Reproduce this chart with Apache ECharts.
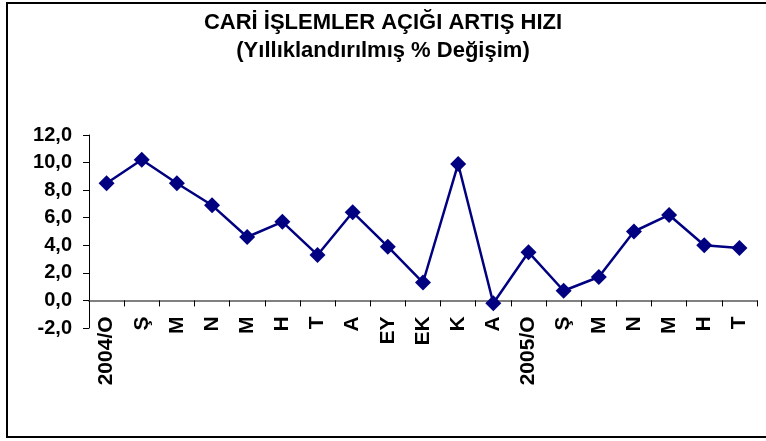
<!DOCTYPE html>
<html><head><meta charset="utf-8">
<script src="https://cdn.jsdelivr.net/npm/echarts@6/dist/echarts.min.js"></script>
<style>html,body{margin:0;padding:0;background:#fff}#c{width:766px;height:441px}</style>
</head><body><div id="c"></div>
<script>
var categories = ['2004/O','Ş','M','N','M','H','T','A','EY','EK','K','A','2005/O','Ş','M','N','M','H','T'];
var values = [8.5,10.2,8.5,6.9,4.6,5.7,3.3,6.4,3.9,1.3,9.9,-0.2,3.5,0.7,1.7,5.0,6.2,4.0,3.8];
var titleText = 'CARİ İŞLEMLER AÇIĞI ARTIŞ HIZI';
var subtitleText = '(Yıllıklandırılmış % Değişim)';
var yMin = -2, yMax = 12;
var gridTop = 135, gridBottom = 113, H = 441;
var plotH = H - gridTop - gridBottom;
var zeroOffset = -plotH * (0 - yMin) / (yMax - yMin);
var chart = echarts.init(document.getElementById('c'));
var ts = {fontFamily:'Liberation Sans, Arial',fontWeight:'bold',fontSize:22,color:'#000',lineHeight:24};
chart.setOption({
  animation:false,
  backgroundColor:'#fff',
  title:[{text:titleText,left:'center',top:6,textStyle:ts},
         {text:subtitleText,left:'center',top:34,textStyle:ts}],
  graphic:[{type:'rect',shape:{x:7,y:3,width:790,height:434},style:{fill:'none',stroke:'#000',lineWidth:2}}],
  grid:{left:89,right:9,top:gridTop,bottom:gridBottom,containLabel:false},
  xAxis:{type:'category',data:categories,boundaryGap:true,offset:zeroOffset,
    axisLine:{show:true,onZero:false,lineStyle:{color:'#808080',width:2}},
    axisTick:{show:true,alignWithLabel:false,length:6,lineStyle:{color:'#000',width:1}},
    axisLabel:{rotate:90,interval:0,margin:16,fontFamily:'Liberation Sans, Arial',fontWeight:'bold',fontSize:21,color:'#000'}},
  yAxis:{type:'value',min:yMin,max:yMax,interval:2,
    axisLine:{show:true,lineStyle:{color:'#000',width:1}},
    axisTick:{show:true,length:6,lineStyle:{color:'#000'}},
    splitLine:{show:false},
    axisLabel:{margin:17,fontFamily:'Liberation Sans, Arial',fontWeight:'bold',fontSize:20,color:'#000',
      formatter:function(v){return v.toFixed(1).replace('.',',');}}},
  series:[{type:'line',data:values,symbol:'diamond',symbolSize:16,
    lineStyle:{color:'#000080',width:2.5},itemStyle:{color:'#000080'}}]
});
</script></body></html>
